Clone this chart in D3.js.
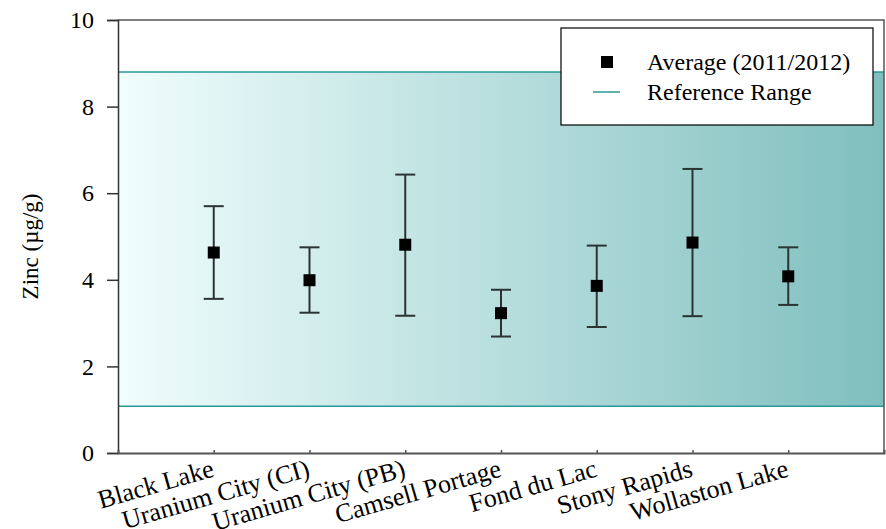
<!DOCTYPE html>
<html>
<head>
<meta charset="utf-8">
<script src="https://cdn.jsdelivr.net/npm/d3@7"></script>
</head>
<body style="margin:0">
<svg id="chart" width="886" height="529"></svg>
<script>
// Zinc concentrations by community
const sites = ["Black Lake", "Uranium City (CI)", "Uranium City (PB)", "Camsell Portage",
               "Fond du Lac", "Stony Rapids", "Wollaston Lake"];
const averages = [4.63, 3.99, 4.81, 3.23, 3.86, 4.86, 4.08];
const upper    = [5.70, 4.75, 6.43, 3.77, 4.79, 6.56, 4.75];
const lower    = [3.56, 3.24, 3.17, 2.69, 2.91, 3.16, 3.42];
const refRange = [1.08, 8.80];
const yTicks   = [0, 2, 4, 6, 8, 10];

const serifFamily = "'Liberation Serif'";
const svg = d3.select("#chart");
const plotLeft = 118, plotRight = 884, plotTop = 20, plotBottom = 453;

const x = d3.scaleLinear().domain([0, sites.length + 1]).range([plotLeft, plotRight]);
const y = d3.scaleLinear().domain([0, 10]).range([plotBottom, plotTop]);

// horizontal gradient for the reference band
const defs = svg.append("defs");
const grad = defs.append("linearGradient").attr("id", "band")
  .attr("x1", "0%").attr("x2", "100%").attr("y1", "0%").attr("y2", "0%");
grad.append("stop").attr("offset", "0%").attr("stop-color", "#f0fdfd");
grad.append("stop").attr("offset", "100%").attr("stop-color", "#7fbfbe");

svg.append("rect")
  .attr("x", plotLeft).attr("width", plotRight - plotLeft)
  .attr("y", y(refRange[1])).attr("height", y(refRange[0]) - y(refRange[1]))
  .attr("fill", "url(#band)");

// reference range bounds
svg.selectAll("line.ref").data(refRange).enter().append("line")
  .attr("class", "ref")
  .attr("x1", plotLeft).attr("x2", plotRight)
  .attr("y1", d => y(d)).attr("y2", d => y(d))
  .attr("stroke", "#2a9896").attr("stroke-width", 1.5);

// frame: top and right edges
svg.append("path")
  .attr("d", `M${plotLeft},${plotTop}H${plotRight}V${plotBottom}`)
  .attr("fill", "none").attr("stroke", "#555").attr("stroke-width", 1.5);

// y axis
const yAxis = svg.append("g").attr("transform", `translate(${plotLeft},0)`)
  .call(d3.axisLeft(y).tickValues(yTicks).tickSize(11).tickPadding(13).tickFormat(d3.format("d")));
yAxis.attr("font-family", null);
yAxis.select(".domain").attr("stroke", "#333").attr("stroke-width", 1.5);
yAxis.selectAll(".tick line").attr("stroke", "#333").attr("stroke-width", 1.5);
yAxis.selectAll(".tick text").attr("font-size", 24).attr("fill", "#000")
  .style("font-family", serifFamily);

// x axis with category labels
const xAxis = svg.append("g").attr("transform", `translate(0,${plotBottom})`)
  .call(d3.axisBottom(x).tickValues(d3.range(1, sites.length + 1)).tickSize(-3)
        .tickFormat((d) => sites[d - 1]));
xAxis.attr("font-family", null);
xAxis.select(".domain").attr("stroke", "#555").attr("stroke-width", 2);
xAxis.selectAll(".tick line").attr("stroke", "#555").attr("stroke-width", 1.5);
xAxis.selectAll(".tick text")
  .attr("font-size", 26).attr("fill", "#000")
  .style("font-family", serifFamily)
  .attr("text-anchor", "end")
  .attr("dy", 0).attr("y", 0)
  .attr("transform", "translate(1,23) rotate(-16)");

// y axis title
svg.append("text")
  .attr("transform", `translate(38,${(plotTop + plotBottom) / 2 + 10}) rotate(-90)`)
  .attr("text-anchor", "middle")
  .attr("font-size", 23)
  .style("font-family", serifFamily)
  .text("Zinc (µg/g)");

// error bars
const bars = svg.append("g").selectAll("g").data(sites).enter().append("g");
bars.append("line")
  .attr("x1", (d, i) => x(i + 1)).attr("x2", (d, i) => x(i + 1))
  .attr("y1", (d, i) => y(upper[i])).attr("y2", (d, i) => y(lower[i]))
  .attr("stroke", "#2b3333").attr("stroke-width", 2);
[upper, lower].forEach(arr => {
  bars.append("line")
    .attr("x1", (d, i) => x(i + 1) - 10).attr("x2", (d, i) => x(i + 1) + 10)
    .attr("y1", (d, i) => y(arr[i])).attr("y2", (d, i) => y(arr[i]))
    .attr("stroke", "#2b3333").attr("stroke-width", 2);
});
bars.append("rect")
  .attr("x", (d, i) => x(i + 1) - 6).attr("y", (d, i) => y(averages[i]) - 6)
  .attr("width", 12).attr("height", 12).attr("fill", "#000");

// legend
const lg = svg.append("g");
lg.append("rect").attr("x", 561).attr("y", 28).attr("width", 312).attr("height", 97)
  .attr("fill", "#fff").attr("stroke", "#000").attr("stroke-width", 1.2);
lg.append("rect").attr("x", 601).attr("y", 56).attr("width", 12).attr("height", 12).attr("fill", "#000");
lg.append("line").attr("x1", 593).attr("x2", 620).attr("y1", 92).attr("y2", 92)
  .attr("stroke", "#2a9896").attr("stroke-width", 1.5);
lg.append("text").attr("x", 647).attr("y", 70).attr("font-size", 24)
  .style("font-family", serifFamily).text("Average (2011/2012)");
lg.append("text").attr("x", 647).attr("y", 100).attr("font-size", 24)
  .style("font-family", serifFamily).text("Reference Range");
</script>
</body>
</html>
